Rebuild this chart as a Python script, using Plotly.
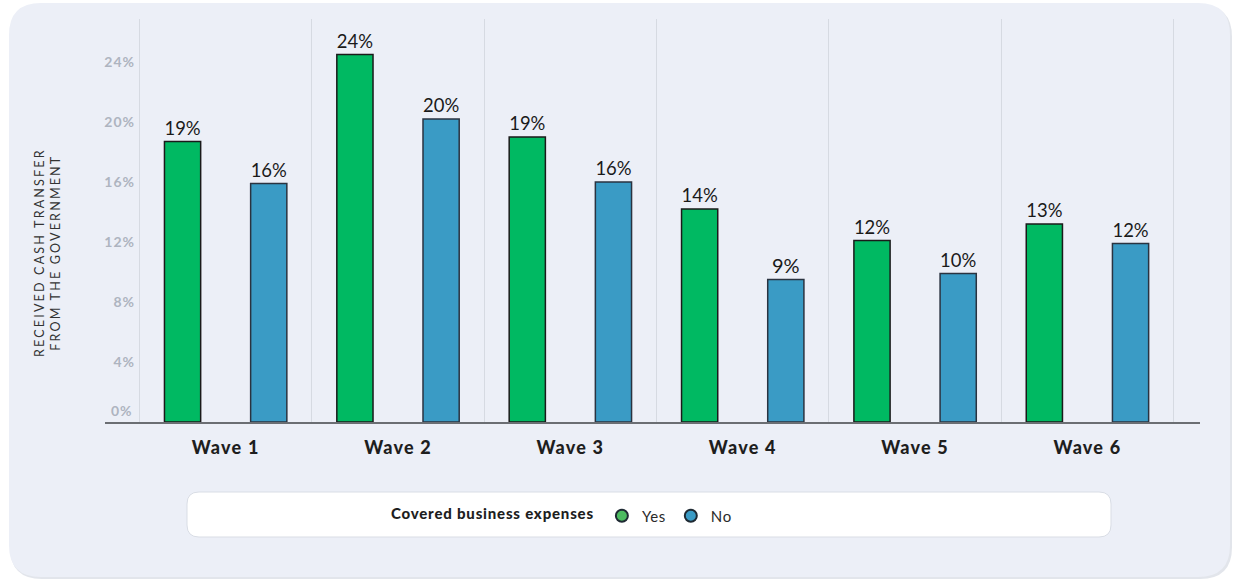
import plotly.graph_objects as go

waves = ["Wave 1", "Wave 2", "Wave 3", "Wave 4", "Wave 5", "Wave 6"]
yes_vals = [18.7, 24.5, 19.0, 14.2, 12.1, 13.2]
no_vals = [15.9, 20.2, 16.0, 9.5, 9.9, 11.9]
yes_labels = ["19%", "24%", "19%", "14%", "12%", "13%"]
no_labels = ["16%", "20%", "16%", "9%", "10%", "12%"]
y_ticks = [4, 8, 12, 16, 20, 24]
y_tick_text = ["4%", "8%", "12%", "16%", "20%", "24%"]
zero_label = "0%"
legend_title = "Covered business expenses"
series_names = ["Yes", "No"]
y_title = "RECEIVED CASH TRANSFER<br>FROM THE GOVERNMENT"

W, H = 1233, 579
L, R, T, B = 105, 1200, 19, 422  # plot area in pixels


def px(x):
    return (x - L) / (R - L)


def py(y):
    return (B - y) / (B - T)


def rounded_rect(x0, y0, x1, y1, r):
    rx = r / (R - L)
    ry = r / (B - T)
    a0, a1 = px(x0), px(x1)
    b0, b1 = py(y0), py(y1)
    return (f"M{a0+rx},{b0} L{a1-rx},{b0} Q{a1},{b0} {a1},{b0-ry} "
            f"L{a1},{b1+ry} Q{a1},{b1} {a1-rx},{b1} L{a0+rx},{b1} "
            f"Q{a0},{b1} {a0},{b1+ry} L{a0},{b0-ry} Q{a0},{b0} {a0+rx},{b0} Z")


def spaced(s, ls):
    return f'<span style="letter-spacing:{ls}px">{s}</span>'


pos = list(range(len(waves)))
off = 0.25
bw = 0.21
GREEN = "#00B962"
BLUE = "#3A9BC5"
TICKGRAY = "#AEB4C0"

fig = go.Figure()
fig.add_trace(go.Bar(
    x=[p - off for p in pos], y=yes_vals, width=bw, name=series_names[0],
    marker=dict(color=GREEN, line=dict(color="#1a1a1a", width=1.5)),
    text=yes_labels, textposition="outside", cliponaxis=False,
    textfont=dict(size=20, color="#1a1a1a", family="Lato"),
    showlegend=False,
))
fig.add_trace(go.Bar(
    x=[p + off for p in pos], y=no_vals, width=bw, name=series_names[1],
    marker=dict(color=BLUE, line=dict(color="#2a3340", width=1.5)),
    text=no_labels, textposition="outside", cliponaxis=False,
    textfont=dict(size=20, color="#1a1a1a", family="Lato"),
    showlegend=False,
))
for name, col in zip(series_names, ["#4CBB60", BLUE]):
    fig.add_trace(go.Scatter(
        x=[None], y=[None], mode="markers", name=spaced(name, 0.6),
        marker=dict(symbol="circle", size=16, color=col,
                    line=dict(color="#1f2a33", width=1.2)),
    ))

shapes = [
    dict(type="path", path=rounded_rect(10, 5, 1232, 579, 32), xref="paper", yref="paper",
         fillcolor="#E2E5EB", line=dict(width=0), layer="below"),
    dict(type="path", path=rounded_rect(9, 3, 1230, 577, 32), xref="paper", yref="paper",
         fillcolor="#ECEFF7", line=dict(width=0), layer="below"),
    dict(type="path", path=rounded_rect(187, 492, 1111, 537, 12), xref="paper", yref="paper",
         fillcolor="#FFFFFF", line=dict(color="#D9DDE5", width=1), layer="below"),
]

fig.update_layout(
    width=W, height=H,
    margin=dict(l=L, r=W - R, t=T, b=H - B),
    paper_bgcolor="#FFFFFF",
    plot_bgcolor="rgba(0,0,0,0)",
    barmode="overlay",
    shapes=shapes,
    font=dict(family="Lato", color="#222"),
    xaxis=dict(
        range=[-0.7, 5.653],
        tickvals=pos, ticktext=[spaced(w, 1.2) for w in waves],
        tickfont=dict(size=18, color="#1e1e1e", family="Lato", weight=900),
        showgrid=False, zeroline=False,
        showline=True, linecolor="#6b6e73", linewidth=2,
        ticks="", ticklabelstandoff=8,
        minor=dict(tickvals=[p - 0.5 for p in pos] + [pos[-1] + 0.5],
                   showgrid=True, gridcolor="#D6DAE2", gridwidth=1, ticks=""),
        fixedrange=True,
    ),
    yaxis=dict(
        range=[0, 26.87],
        tickvals=y_ticks, ticktext=[spaced(t, 1) for t in y_tick_text],
        tickfont=dict(size=14, color=TICKGRAY, family="Lato", weight="bold"),
        showgrid=False, zeroline=False, showline=False, ticks="",
        anchor="free", position=px(141), ticklabelstandoff=6,
        fixedrange=True,
    ),
    legend=dict(
        orientation="h", x=px(563), y=py(516), xanchor="center", yanchor="middle",
        bgcolor="rgba(0,0,0,0)",
        title=dict(text=spaced(legend_title, 0.8), side="left",
                   font=dict(size=15, color="#1e1e1e", family="Lato", weight=900)),
        font=dict(size=15, color="#2a2a2a", family="Lato"),
        itemsizing="constant",
    ),
    annotations=[
        dict(text=spaced(y_title, 2.2),
             xref="paper", yref="paper", x=px(48), y=py(253),
             textangle=-90, showarrow=False, xanchor="center", yanchor="middle",
             font=dict(size=12.5, color="#333", family="Lato")),
        dict(text=spaced(zero_label, 1), xref="paper", yref="y", x=px(135), y=0,
             xanchor="right", yanchor="bottom", yshift=1, showarrow=False,
             font=dict(size=14, color=TICKGRAY, family="Lato", weight="bold")),
    ],
)

fig.write_html("out.html", config={"displayModeBar": False},
               post_script="document.body.style.margin='0px';")
